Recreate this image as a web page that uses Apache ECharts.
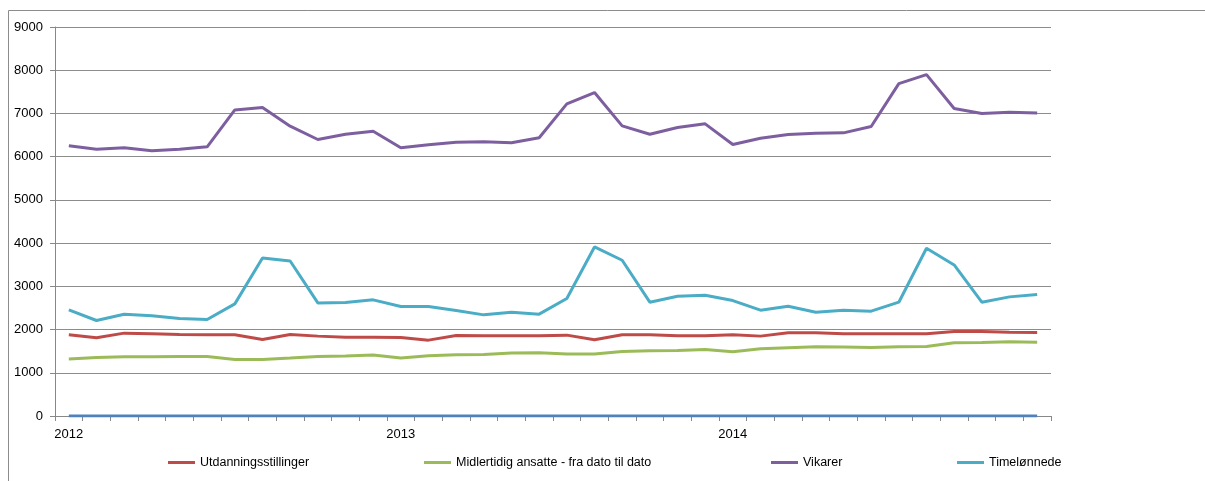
<!DOCTYPE html>
<html>
<head>
<meta charset="utf-8">
<script src="https://cdn.jsdelivr.net/npm/echarts@6/dist/echarts.min.js"></script>
<style>html,body{margin:0;padding:0;background:#fff;}#c{width:1205px;height:481px;}</style>
</head>
<body>
<div id="c"></div>
<script>
const months = [];
for (let y = 2012; y <= 2014; y++) for (let m = 1; m <= 12; m++) months.push(y + '-' + (m < 10 ? '0' + m : m));
const yearTicks = ['2012-01', '2013-01', '2014-01'];

const utdanning = [1878,1809,1917,1901,1886,1878,1878,1771,1886,1848,1824,1824,
  1817,1755,1863,1855,1855,1855,1871,1763,1878,1878,1855,1855,
  1878,1848,1925,1925,1901,1901,1901,1901,1955,1955,1940,1932];
const midlertidig = [1316,1355,1370,1370,1378,1378,1309,1309,1340,1378,1386,1409,
  1340,1393,1416,1424,1455,1463,1432,1432,1494,1509,1517,1540,
  1486,1555,1578,1601,1594,1586,1601,1609,1694,1701,1717,1709];
const vikarer = [6251,6174,6205,6135,6174,6228,7082,7136,6705,6397,6520,6590,
  6205,6274,6336,6343,6320,6436,7221,7483,6713,6520,6674,6759,
  6282,6428,6513,6543,6551,6697,7690,7898,7113,6998,7029,7013];
const timelonnede = [2456,2209,2356,2317,2256,2233,2594,3657,3587,2617,2625,2687,
  2533,2533,2440,2340,2402,2356,2717,3911,3603,2633,2771,2794,
  2671,2448,2540,2402,2448,2425,2633,3880,3495,2633,2756,2810];
const nullserie = [0,0,0,0,0,0,0,0,0,0,0,0,0,0,0,0,0,0,0,0,0,0,0,0,0,0,0,0,0,0,0,0,0,0,0,0];

const names = ['Utdanningsstillinger', 'Midlertidig ansatte - fra dato til dato', 'Vikarer', 'Timelønnede'];
const colors = ['#BE4B48', '#9BBB59', '#7D5FA0', '#4BACC6'];
const FONT = 'Liberation Sans';

function line(name, data, color) {
  return { name: name, type: 'line', data: data, symbol: 'none', smooth: false,
    lineStyle: { width: 3, color: color }, itemStyle: { color: color }, animation: false };
}

const legendLefts = [168, 424, 771, 957];
const chart = echarts.init(document.getElementById('c'), null, { renderer: 'canvas' });
chart.setOption({
  animation: false,
  graphic: [{ type: 'rect', shape: { x: 8.5, y: 10.5, width: 1300, height: 600 },
    style: { fill: 'none', stroke: '#8c8c8c', lineWidth: 1 }, silent: true }],
  grid: { left: 55, right: 154, top: 27, bottom: 65, containLabel: false },
  legend: names.map((n, i) => ({
    data: [n], left: legendLefts[i], top: 456, padding: 0, icon: 'rect', itemWidth: 27, itemHeight: 3, itemGap: 0,
    textStyle: { fontFamily: FONT, fontSize: 12.5, color: '#000' }, selectedMode: false
  })),
  xAxis: {
    type: 'category', data: months, boundaryGap: true,
    axisLine: { show: true, lineStyle: { color: '#888', width: 1 } },
    axisTick: { show: true, interval: 0, length: 5, lineStyle: { color: '#888' } },
    axisLabel: { interval: 0, margin: 12, fontFamily: FONT, fontSize: 13, color: '#000',
      formatter: v => yearTicks.indexOf(v) >= 0 ? v.slice(0, 4) : '' },
    splitLine: { show: false }
  },
  yAxis: {
    type: 'value', min: 0, max: 9000, interval: 1000,
    axisLine: { show: true, lineStyle: { color: '#888', width: 1 } },
    axisTick: { show: true, length: 5, lineStyle: { color: '#888' } },
    axisLabel: { margin: 12, fontFamily: FONT, fontSize: 13, color: '#000', formatter: v => String(v) },
    splitLine: { show: true, lineStyle: { color: '#8c8c8c', width: 1 } }
  },
  series: [
    line('null', nullserie, '#4F81BD'),
    line(names[0], utdanning, colors[0]),
    line(names[1], midlertidig, colors[1]),
    line(names[2], vikarer, colors[2]),
    line(names[3], timelonnede, colors[3])
  ]
});
</script>
</body>
</html>
